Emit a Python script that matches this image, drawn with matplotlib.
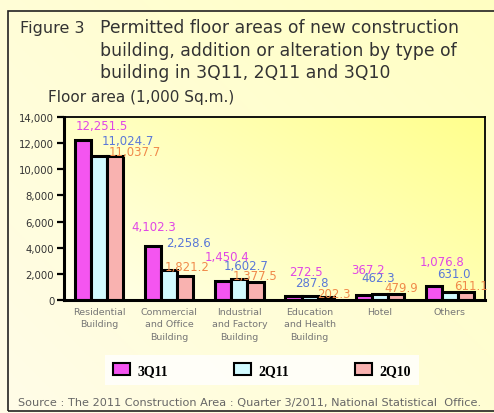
import numpy as np
import matplotlib.pyplot as plt
from matplotlib.patches import Rectangle

categories = ["Residential\nBuilding", "Commercial\nand Office\nBuilding",
              "Industrial\nand Factory\nBuilding", "Education\nand Health\nBuilding",
              "Hotel", "Others"]
series = ["3Q11", "2Q11", "2Q10"]
q3_11 = [12251.5, 4102.3, 1450.4, 272.5, 367.2, 1076.8]
q2_11 = [11024.7, 2258.6, 1602.7, 287.8, 462.3, 631.0]
q2_10 = [11037.7, 1821.2, 1377.5, 202.3, 479.9, 611.1]

bar_colors = ["#f455f0", "#d2fbff", "#f9b2b0"]
label_colors = ["#e046e6", "#5a78d8", "#f08a4a"]

# label offsets from bar top (pixels, right / up), one row per series
label_dx = [[19, 1, 4, 12, 4, 8],
            [29, 19, 7, 2, -2, 4],
            [20, 2, -1, 8, 5, 5]]
label_dy = [[14, 20, 25, 25, 26, 24],
            [15, 28, 14, 14, 16, 18],
            [4, 10, 6, 4, 6, 7]]

fig = plt.figure(figsize=(4.94, 4.14), dpi=100)

# background gradient (cream, yellower to the right)
bg = fig.add_axes([0, 0, 1, 1], zorder=-10)
gx, gy = np.meshgrid(np.linspace(0, 1, 200), np.linspace(0, 1, 200))
g = np.clip(0.55 * gx + 0.45 * gy, 0, 1)
c0 = np.array([1.0, 0.99, 0.91])
c1 = np.array([1.0, 1.0, 0.76])
img = c0[None, None, :] * (1 - g[..., None]) + c1[None, None, :] * g[..., None]
bg.imshow(img, extent=[0, 1, 0, 1], aspect="auto", origin="lower")
bg.add_patch(Rectangle((8 / 494, 2 / 414), 1.2, (414 - 14) / 414,
                       fill=False, edgecolor="#222222", linewidth=1.2))
bg.set_xlim(0, 1)
bg.set_ylim(0, 1)
bg.axis("off")

ax = fig.add_axes([64 / 494, (414 - 301) / 414, (485 - 64) / 494, (301 - 118) / 414])
ax.set_facecolor("none")

x = np.arange(len(categories))
w = 0.23
values = [q3_11, q2_11, q2_10]

# plot area gradient
pg = np.clip(0.6 * gx + 0.4 * gy, 0, 1)
p0 = np.array([1.0, 1.0, 0.93])
p1 = np.array([1.0, 1.0, 0.55])
pimg = p0[None, None, :] * (1 - pg[..., None]) + p1[None, None, :] * pg[..., None]
ax.imshow(pimg, extent=[-0.5, 5.5, 0, 14000], aspect="auto", origin="lower", zorder=0)

for i, (vals, col) in enumerate(zip(values, bar_colors)):
    pos = x + (i - 1) * w
    ax.bar(pos, vals, width=w, color=col, edgecolor="black", linewidth=2.2,
           label=series[i], zorder=2)
    for j, (px_, v) in enumerate(zip(pos, vals)):
        ax.annotate(f"{v:,.1f}", (px_, v),
                    xytext=(label_dx[i][j] * 0.72, label_dy[i][j] * 0.72),
                    textcoords="offset points", ha="center", va="center",
                    fontsize=8.5, color=label_colors[i], zorder=3,
                    annotation_clip=False)

ax.set_xlim(-0.5, 5.5)
ax.set_ylim(0, 14000)
ax.set_yticks(np.arange(0, 14001, 2000))
ax.set_yticklabels([f"{t:,}" for t in range(0, 14001, 2000)], fontsize=7.3, color="#333333")
ax.set_xticks(x)
ax.set_xticklabels(categories, fontsize=6.8, color="#777777", va="top", linespacing=1.5)
ax.tick_params(axis="x", length=0, pad=5)
ax.tick_params(axis="y", length=5, width=1.6, pad=2)
for side in ["left", "bottom"]:
    ax.spines[side].set_linewidth(2.2)
for side in ["top", "right"]:
    ax.spines[side].set_linewidth(1.3)

title_lines = ["Permitted floor areas of new construction",
               "building, addition or alteration by type of",
               "building in 3Q11, 2Q11 and 3Q10"]
fig.text(20 / 494, 1 - 28 / 414, "Figure 3", fontsize=11.5, color="#333333", va="center")
for k, line in enumerate(title_lines):
    fig.text(100 / 494, 1 - (28 + 22.5 * k) / 414, line, fontsize=12.4,
             color="#333333", va="center")
fig.text(48 / 494, 1 - 98 / 414, "Floor area (1,000 Sq.m.)", fontsize=11,
         color="#333333", va="center")

handles = [Rectangle((0, 0), 1, 1, facecolor=c, edgecolor="black", linewidth=1.5)
           for c in bar_colors]
leg = fig.legend(handles, series, loc="center", bbox_to_anchor=(262 / 494, 1 - 371 / 414),
                 ncol=3, frameon=True, fancybox=False, columnspacing=4.8,
                 handlelength=1.2, handleheight=1.0, handletextpad=0.5,
                 borderpad=0.6, borderaxespad=0,
                 prop={"family": "Liberation Serif", "weight": "bold", "size": 10})
leg.get_frame().set_facecolor("white")
leg.get_frame().set_edgecolor("none")
leg.get_frame().set_alpha(0.8)

fig.text(250 / 494, 1 - 403 / 414,
         "Source : The 2011 Construction Area : Quarter 3/2011, National Statistical  Office.",
         fontsize=8.1, color="#666666", ha="center", va="center")

fig.savefig("out.png", dpi=100)
